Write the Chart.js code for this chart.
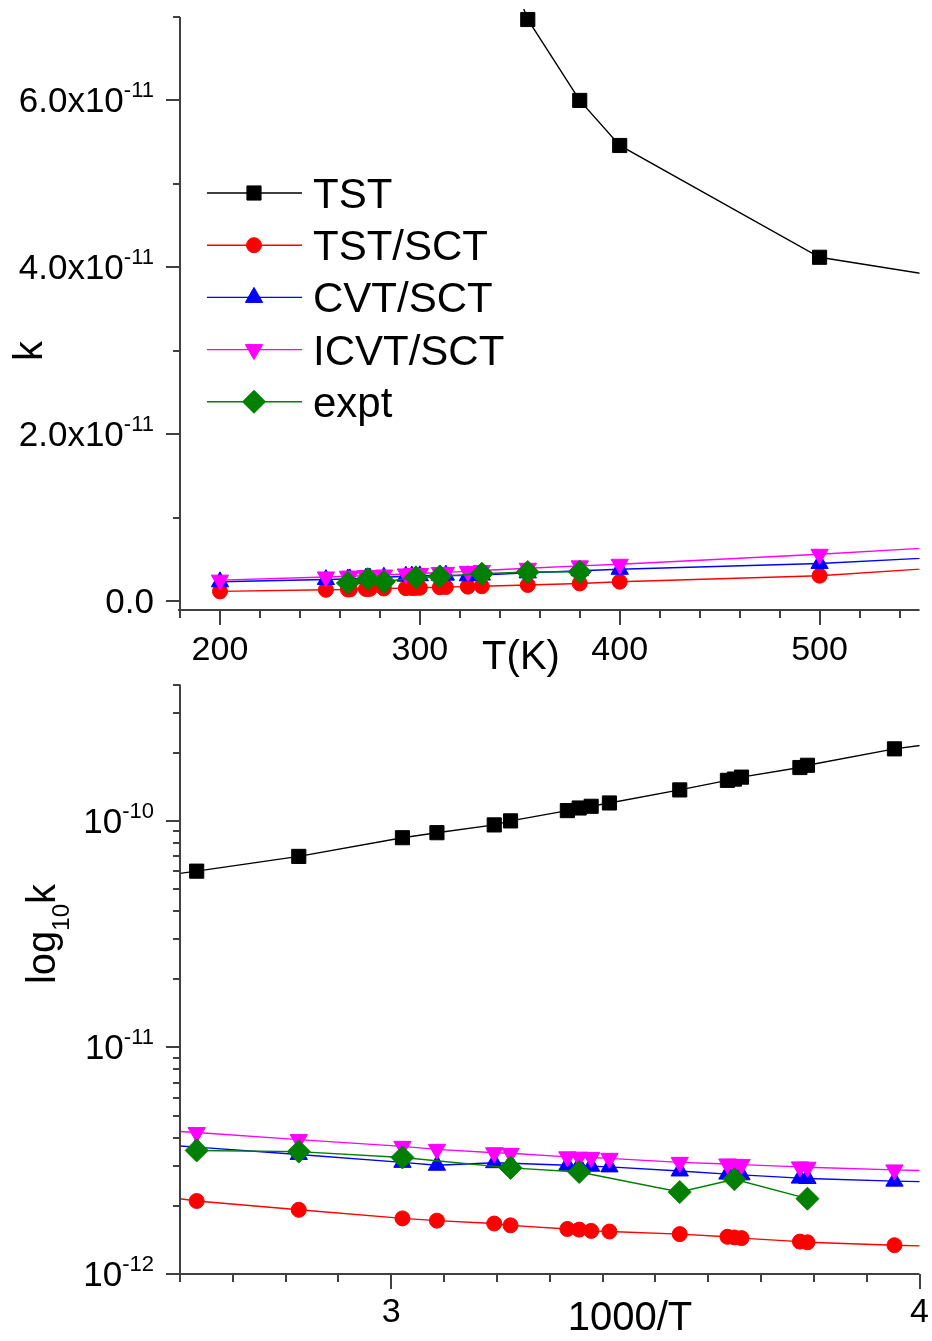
<!DOCTYPE html>
<html>
<head>
<meta charset="utf-8">
<script src="https://cdn.jsdelivr.net/npm/chart.js@4.4.1/dist/chart.umd.min.js"></script>
<style>
    html, body { margin: 0; padding: 0; background: #fff; }
    body { width: 932px; height: 1341px; position: relative; overflow: hidden; }
    canvas { position: absolute; left: 0; }
    #chartTop { top: 0; }
    #chartBottom { top: 672px; }
</style>
</head>
<body>
<canvas id="chartTop" width="932" height="690"></canvas>
<canvas id="chartBottom" width="932" height="669"></canvas>
<script>
// temperaturas (K) dos calculos
var temperaturas = [200, 253, 264, 265, 273, 274, 275, 282, 293, 296, 298, 300, 310, 313, 324, 331, 354, 380, 400, 500, 600];

// constantes de velocidade calculadas
var kTST = [4.3e-10, 2.08e-10, 1.76e-10, 1.72e-10, 1.56e-10, 1.53e-10, 1.51e-10, 1.37e-10, 1.20e-10, 1.16e-10, 1.14e-10, 1.11e-10, 1.00e-10, 9.6e-11, 8.87e-11, 8.43e-11, 6.97e-11, 6.0e-11, 5.46e-11, 4.12e-11, 3.74e-11];
var kTSTSCT = [1.15e-12, 1.34e-12, 1.38e-12, 1.39e-12, 1.44e-12, 1.45e-12, 1.46e-12, 1.50e-12, 1.54e-12, 1.55e-12, 1.57e-12, 1.58e-12, 1.64e-12, 1.67e-12, 1.72e-12, 1.76e-12, 1.92e-12, 2.10e-12, 2.31e-12, 3.03e-12, 4.6e-12];
var kCVTSCT = [2.3e-12, 2.57e-12, 2.64e-12, 2.65e-12, 2.74e-12, 2.75e-12, 2.76e-12, 2.85e-12, 2.97e-12, 2.99e-12, 3.01e-12, 3.02e-12, 3.08e-12, 3.10e-12, 3.02e-12, 3.11e-12, 3.37e-12, 3.63e-12, 3.8e-12, 4.5e-12, 5.7e-12];
var kICVTSCT = [2.5e-12, 2.88e-12, 2.96e-12, 2.97e-12, 3.04e-12, 3.05e-12, 3.06e-12, 3.11e-12, 3.24e-12, 3.27e-12, 3.28e-12, 3.29e-12, 3.41e-12, 3.43e-12, 3.55e-12, 3.66e-12, 3.92e-12, 4.21e-12, 4.4e-12, 5.6e-12, 7.0e-12];

// dados experimentais
var temperaturasExpt = [264, 274, 282, 298, 310, 331, 354, 380];
var kExpt = [2.15e-12, 2.62e-12, 2.30e-12, 2.82e-12, 2.94e-12, 3.27e-12, 3.47e-12, 3.51e-12];

// marcas dos eixos
var ticksT = [200, 300, 400, 500];
var rotulosT = ['200', '300', '400', '500'];
var ticksK = [0, 2e-11, 4e-11, 6e-11];
var rotulosK = [['0.0', ''], ['2.0x10', '-11'], ['4.0x10', '-11'], ['6.0x10', '-11']];
var ticksInvT = [3, 4];
var rotulosInvT = ['3', '4'];
var ticksLogK = [1e-12, 1e-11, 1e-10];
var rotulosLogK = [['10', '-12'], ['10', '-11'], ['10', '-10']];

var fonte = '"Liberation Sans", Arial, Helvetica, sans-serif';
var corEixo = '#404040';

function serie(rotulo, xs, ys, cor, estilo, raio, rotacao, ordem) {
    return {
        label: rotulo,
        data: xs.map(function (x, i) { return { x: x, y: ys[i] }; }),
        borderColor: cor,
        backgroundColor: cor,
        pointBackgroundColor: cor,
        pointBorderColor: cor,
        borderWidth: 1.4,
        pointStyle: estilo,
        pointRadius: raio,
        pointHoverRadius: raio,
        pointRotation: rotacao,
        pointBorderWidth: 1,
        tension: 0,
        order: ordem
    };
}

function montarSeries(xs, xsExpt) {
    return [
        serie('TST', xs, kTST, '#000000', 'rect', 10, 0, 5),
        serie('TST/SCT', xs, kTSTSCT, '#ff0000', 'circle', 7.5, 0, 4),
        serie('CVT/SCT', xs, kCVTSCT, '#0000ff', 'triangle', 10, 0, 3),
        serie('ICVT/SCT', xs, kICVTSCT, '#ff00ff', 'triangle', 10, 180, 2),
        serie('expt', xsExpt, kExpt, '#007f00', 'rectRot', 11.5, 0, 1)
    ];
}

function escreverRotulo(ctx, base, sup, xDireita, yCentro) {
    ctx.textAlign = 'right';
    ctx.textBaseline = 'alphabetic';
    var wSup = 0;
    if (sup) {
        ctx.font = '22px ' + fonte;
        wSup = ctx.measureText(sup).width;
        ctx.fillText(sup, xDireita, yCentro - 3);
    }
    ctx.font = '35px ' + fonte;
    ctx.fillText(base, xDireita - wSup, yCentro + 12);
}

function desenharLegenda(chart) {
    var ctx = chart.ctx;
    chart.data.datasets.forEach(function (ds, i) {
        var y = 193 + i * 52.2;
        ctx.strokeStyle = ds.borderColor;
        ctx.lineWidth = 1.4;
        ctx.beginPath();
        ctx.moveTo(207, y);
        ctx.lineTo(302, y);
        ctx.stroke();

        ctx.fillStyle = ds.pointBackgroundColor;
        ctx.strokeStyle = ds.pointBorderColor;
        ctx.lineWidth = 1;
        Chart.helpers.drawPoint(ctx, {
            pointStyle: ds.pointStyle,
            radius: ds.pointRadius,
            rotation: ds.pointRotation,
            borderWidth: 1
        }, 254, y);

        ctx.fillStyle = '#000';
        ctx.font = '42px ' + fonte;
        ctx.textAlign = 'left';
        ctx.textBaseline = 'alphabetic';
        ctx.fillText(ds.label, 313, y + 15);
    });
}

// desenha eixos, marcas, rotulos e titulos com as escalas do proprio grafico
function criarEixos(cfg) {
    return {
        id: 'eixos' + cfg.nome,
        afterDraw: function (chart) {
            var ctx = chart.ctx;
            var area = chart.chartArea;
            var sx = chart.scales.x;
            var sy = chart.scales.y;
            var esq = Math.round(area.left);
            var base = Math.round(area.bottom);

            ctx.save();
            ctx.strokeStyle = corEixo;
            ctx.lineWidth = 2;
            ctx.beginPath();
            ctx.moveTo(esq, area.top);
            ctx.lineTo(esq, base + 1);
            ctx.moveTo(esq - 2, base);
            ctx.lineTo(area.right, base);

            cfg.yMenores.forEach(function (v) {
                var p = Math.round(sy.getPixelForValue(v));
                ctx.moveTo(esq - 7, p);
                ctx.lineTo(esq, p);
            });
            cfg.yMaiores.forEach(function (v) {
                var p = Math.round(sy.getPixelForValue(v));
                ctx.moveTo(esq - 14, p);
                ctx.lineTo(esq, p);
            });
            cfg.xMenores.forEach(function (v) {
                var p = Math.round(sx.getPixelForValue(v));
                ctx.moveTo(p, base);
                ctx.lineTo(p, base + 8);
            });
            cfg.xMaiores.forEach(function (v) {
                var p = Math.round(sx.getPixelForValue(v));
                ctx.moveTo(p, base);
                ctx.lineTo(p, base + 15);
            });
            ctx.stroke();

            ctx.fillStyle = '#000';
            cfg.yMaiores.forEach(function (v, i) {
                escreverRotulo(ctx, cfg.yRotulos[i][0], cfg.yRotulos[i][1], 154, sy.getPixelForValue(v));
            });

            ctx.font = '34px ' + fonte;
            ctx.textAlign = 'center';
            ctx.textBaseline = 'alphabetic';
            cfg.xMaiores.forEach(function (v, i) {
                ctx.fillText(cfg.xRotulos[i], sx.getPixelForValue(v), base + cfg.xRotuloDesloc);
            });

            cfg.titulos(ctx, area);
            if (cfg.legenda) {
                desenharLegenda(chart);
            }
            ctx.restore();
        }
    };
}

// marcas secundarias
var menoresT = [];
for (var t = 180; t <= 540; t += 20) menoresT.push(t);
var menoresK = [];
for (var i = 0; i <= 7; i++) menoresK.push(i * 1e-11);
var menoresInvT = [];
for (var j = 0; j <= 14; j++) menoresInvT.push(2.6 + j * 0.1);
var menoresLogK = [];
[-12, -11, -10].forEach(function (e) {
    for (var m = 1; m <= 9; m++) {
        var v = m * Math.pow(10, e);
        if (v <= 4.0001e-10) menoresLogK.push(v);
    }
});

var opcoesBase = {
    responsive: false,
    animation: false,
    events: [],
    plugins: { legend: { display: false }, tooltip: { enabled: false } }
};

// grafico de cima: k x T
new Chart(document.getElementById('chartTop'), {
    type: 'line',
    data: { datasets: montarSeries(temperaturas, temperaturasExpt) },
    options: Object.assign({}, opcoesBase, {
        clip: { left: 0, top: 8, right: 0, bottom: 0 },
        layout: { padding: { left: 180, top: 17, right: 9, bottom: 80 } },
        scales: {
            x: { type: 'linear', display: false, min: 180, max: 550 },
            y: { type: 'linear', display: false, min: -1.08e-12, max: 7e-11 }
        }
    }),
    plugins: [criarEixos({
        nome: 'Top',
        yMaiores: ticksK, yRotulos: rotulosK, yMenores: menoresK,
        xMaiores: ticksT, xRotulos: rotulosT, xMenores: menoresT,
        xRotuloDesloc: 50,
        legenda: true,
        titulos: function (ctx, area) {
            ctx.font = '40px ' + fonte;
            ctx.textBaseline = 'alphabetic';
            ctx.textAlign = 'center';
            ctx.fillText('T(K)', 521, 669);
            ctx.save();
            ctx.translate(42, 351);
            ctx.rotate(-Math.PI / 2);
            ctx.fillText('k', 0, 0);
            ctx.restore();
        }
    })]
});

// grafico de baixo: log10 k x 1000/T
new Chart(document.getElementById('chartBottom'), {
    type: 'line',
    data: {
        datasets: montarSeries(
            temperaturas.map(function (t) { return 1000 / t; }),
            temperaturasExpt.map(function (t) { return 1000 / t; })
        )
    },
    options: Object.assign({}, opcoesBase, {
        clip: 0,
        layout: { padding: { left: 180, top: 8, right: 9, bottom: 67 } },
        scales: {
            x: { type: 'linear', display: false, min: 2.6, max: 4.0 },
            y: { type: 'logarithmic', display: false, min: 1e-12, max: 4e-10 }
        }
    }),
    plugins: [criarEixos({
        nome: 'Bottom',
        yMaiores: ticksLogK, yRotulos: rotulosLogK, yMenores: menoresLogK,
        xMaiores: ticksInvT, xRotulos: rotulosInvT, xMenores: menoresInvT,
        xRotuloDesloc: 48,
        legenda: false,
        titulos: function (ctx, area) {
            ctx.textBaseline = 'alphabetic';
            ctx.textAlign = 'center';
            ctx.font = '40px ' + fonte;
            ctx.fillText('1000/T', 630, 658);

            // log10k com subscrito
            ctx.save();
            ctx.translate(55, 262);
            ctx.rotate(-Math.PI / 2);
            ctx.textAlign = 'left';
            ctx.font = '40px ' + fonte;
            var wLog = ctx.measureText('log').width;
            var wK = ctx.measureText('k').width;
            ctx.font = '24px ' + fonte;
            var wSub = ctx.measureText('10').width;
            var x0 = -(wLog + wSub + wK) / 2;
            ctx.font = '40px ' + fonte;
            ctx.fillText('log', x0, 0);
            ctx.font = '24px ' + fonte;
            ctx.fillText('10', x0 + wLog, 14);
            ctx.font = '40px ' + fonte;
            ctx.fillText('k', x0 + wLog + wSub, 0);
            ctx.restore();
        }
    })]
});
</script>
</body>
</html>
